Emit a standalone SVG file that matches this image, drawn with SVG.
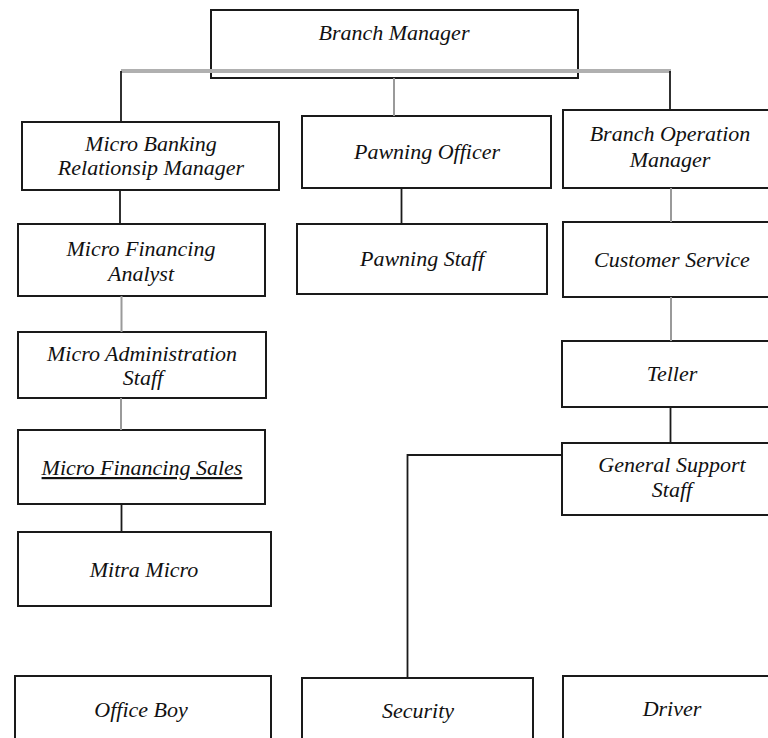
<svg xmlns="http://www.w3.org/2000/svg" width="768" height="738" viewBox="0 0 768 738">
<style>
.box{fill:#fff;stroke:#1a1a1a;stroke-width:2}
.t{font-family:"Liberation Serif","Times New Roman",serif;font-style:italic;font-size:22px;fill:#111;text-anchor:middle}
.ln{fill:none;stroke:#1a1a1a;stroke-width:1.8}
.gl{fill:none;stroke:#9a9a9a;stroke-width:2}
.glt{fill:none;stroke:#b0b0b0;stroke-width:4}
</style>
<rect width="768" height="738" fill="#fff"/>
<g id="branch-manager"><rect class="box" x="211" y="10" width="367" height="68" style="fill:none"/><text class="t" x="394" y="40">Branch Manager</text></g>
<g id="micro-banking"><rect class="box" x="22" y="122" width="257" height="68"/><text class="t" x="151" y="151">Micro Banking</text><text class="t" x="151" y="175">Relationsip Manager</text></g>
<g id="micro-financing-analyst"><rect class="box" x="18" y="224" width="247" height="72"/><text class="t" x="141" y="256">Micro Financing</text><text class="t" x="141" y="281">Analyst</text></g>
<g id="micro-admin"><rect class="box" x="18" y="332" width="248" height="66"/><text class="t" x="142" y="361">Micro Administration</text><text class="t" x="143" y="385">Staff</text></g>
<g id="micro-financing-sales"><rect class="box" x="18" y="430" width="247" height="74"/><text class="t" x="142" y="475" text-decoration="underline">Micro Financing Sales</text></g>
<g id="mitra-micro"><rect class="box" x="18" y="532" width="253" height="74"/><text class="t" x="144" y="577">Mitra Micro</text></g>
<g id="pawning-officer"><rect class="box" x="302" y="116" width="249" height="72"/><text class="t" x="427" y="159">Pawning Officer</text></g>
<g id="pawning-staff"><rect class="box" x="297" y="224" width="250" height="70"/><text class="t" x="422" y="266">Pawning Staff</text></g>
<g id="branch-operation-manager"><rect class="box" x="563" y="110" width="214" height="78"/><text class="t" x="670" y="141">Branch Operation</text><text class="t" x="670" y="167">Manager</text></g>
<g id="customer-service"><rect class="box" x="563" y="222" width="214" height="75"/><text class="t" x="672" y="267">Customer Service</text></g>
<g id="teller"><rect class="box" x="562" y="341" width="215" height="66"/><text class="t" x="672" y="381">Teller</text></g>
<g id="general-support-staff"><rect class="box" x="562" y="443" width="215" height="72"/><text class="t" x="672" y="472">General Support</text><text class="t" x="672" y="497">Staff</text></g>
<g id="office-boy"><rect class="box" x="15" y="676" width="256" height="80"/><text class="t" x="141" y="717">Office Boy</text></g>
<g id="security"><rect class="box" x="302" y="678" width="231" height="80"/><text class="t" x="418" y="718">Security</text></g>
<g id="driver"><rect class="box" x="563" y="676" width="214" height="80"/><text class="t" x="672" y="716">Driver</text></g>
<g id="connectors">
<line class="glt" x1="121" y1="71" x2="671" y2="71"/>
<line class="ln" x1="121" y1="71" x2="121" y2="122"/>
<line class="gl" x1="394" y1="78" x2="394" y2="116"/>
<line class="ln" x1="670" y1="71" x2="670" y2="110"/>
<line class="ln" x1="120" y1="190" x2="120" y2="224"/>
<line class="gl" x1="121.5" y1="296" x2="121.5" y2="332"/>
<line class="gl" x1="121" y1="398" x2="121" y2="430"/>
<line class="ln" x1="121.5" y1="504" x2="121.5" y2="532"/>
<line class="ln" x1="401.5" y1="188" x2="401.5" y2="224"/>
<line class="gl" x1="671" y1="188" x2="671" y2="222"/>
<line class="gl" x1="671" y1="297" x2="671" y2="341"/>
<line class="ln" x1="670.5" y1="407" x2="670.5" y2="443"/>
<polyline class="ln" points="562,455 407.5,455 407.5,678"/>
</g>
</svg>
